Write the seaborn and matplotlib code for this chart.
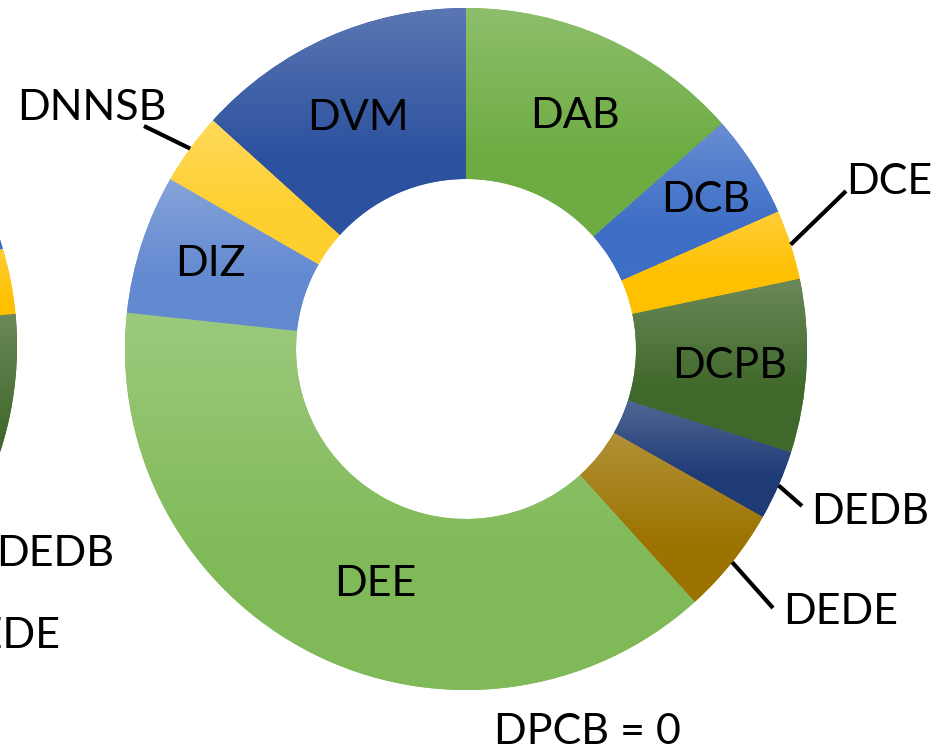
import numpy as np
import matplotlib
matplotlib.use("Agg")
import matplotlib.pyplot as plt
import matplotlib.colors as mcolors
import seaborn as sns

# Share of each unit (percent of the total), clockwise from 12 o'clock
categories = ["DAB", "DCB", "DCE", "DCPB", "DEDB", "DEDE", "DEE", "DIZ", "DNNSB", "DVM"]
share_main = [13.5, 4.9, 3.3, 8.2, 3.3, 5.1, 38.4, 6.6, 3.4, 13.3]
share_prev = [14.0, 6.4, 3.1, 9.5, 3.0, 5.0, 37.0, 6.5, 3.5, 12.0]
zero_note = "DPCB = 0"

palette = ["#6DAC42", "#3E6EC6", "#FFC000", "#40682A", "#1F3B76",
           "#9C7300", "#80BA58", "#6389D0", "#FECF2E", "#2C519E"]

sns.set_theme(style="white")
plt.rcParams["font.family"] = ["Lato", "DejaVu Sans"]
plt.rcParams["text.color"] = "black"

W, H = 952, 751
fig = plt.figure(figsize=(W / 100, H / 100), dpi=100)
ax = fig.add_axes([0, 0, 1, 1])

R_OUT, R_IN = 341, 170
main_c = (466, H - 349)
prev_c = (-324, H - 346)
FS = 31
CAP = 15.5  # half the cap height in pixels, used to centre capitals


def shade(wedge, base):
    """Fill a wedge with a soft top-to-bottom gradient of its colour."""
    rgb = np.array(mcolors.to_rgb(base))
    top = rgb + (1 - rgb) * 0.22
    (x0, y0), (x1, y1) = wedge.get_path().get_extents().get_points()
    t = np.linspace(0, 1, 256)[:, None]
    f = np.clip((t - 0.35) / 0.65, 0, 1)
    img = (rgb[None, :] * (1 - f) + top[None, :] * f)[:, None, :]
    im = ax.imshow(img, extent=(x0, x1, y0, y1), origin="lower",
                   aspect="auto", interpolation="bilinear",
                   zorder=wedge.get_zorder() + 0.1)
    im.set_clip_path(wedge)


def donut(values, center):
    wedges, _ = ax.pie(values, colors=palette, startangle=90, counterclock=False,
                       radius=R_OUT, center=center, frame=False,
                       wedgeprops=dict(width=R_OUT - R_IN, linewidth=0))
    for w, c in zip(wedges, palette):
        shade(w, c)
    return wedges


def label(x, y_down, s):
    """Place a label so its capitals are centred on (x, y_down), y measured downward."""
    ax.text(x, H - (y_down + CAP), s, fontsize=FS, ha="center", va="baseline",
            color="black", zorder=6)


donut(share_prev, prev_c)
wedges = donut(share_main, main_c)

# label centres inside the ring (y measured downward)
inside_layout = {
    "DAB": (575, 113), "DCB": (706, 197), "DCPB": (730, 362),
    "DEE": (375, 581), "DIZ": (210, 260), "DVM": (358, 115),
}
# text centre and leader-line end for the labels outside the ring
outside_layout = {
    "DCE": ((889, 178), (846, 191)),
    "DEDB": ((870, 508), (802, 506)),
    "DEDE": ((841, 608), (773, 608)),
    "DNNSB": ((92, 104), (144, 126)),
}

for w, name in zip(wedges, categories):
    if name in outside_layout:
        mid = np.deg2rad((w.theta1 + w.theta2) / 2)
        (tx, ty), (ex, ey) = outside_layout[name]
        sx = main_c[0] + R_OUT * np.cos(mid)
        sy = main_c[1] + R_OUT * np.sin(mid)
        ax.plot([sx, ex], [sy, H - ey], color="black", lw=3,
                solid_capstyle="butt", zorder=5)
        label(tx, ty, name)
    else:
        label(*inside_layout[name], name)

# labels belonging to the neighbouring ring
label(55, 551, "DEDB")
label(3, 632, "DEDE")

label(587, 728, zero_note)

ax.set_xlim(0, W)
ax.set_ylim(0, H)
ax.set_aspect("equal")
ax.axis("off")

fig.savefig("out.png", dpi=100, facecolor="white")
